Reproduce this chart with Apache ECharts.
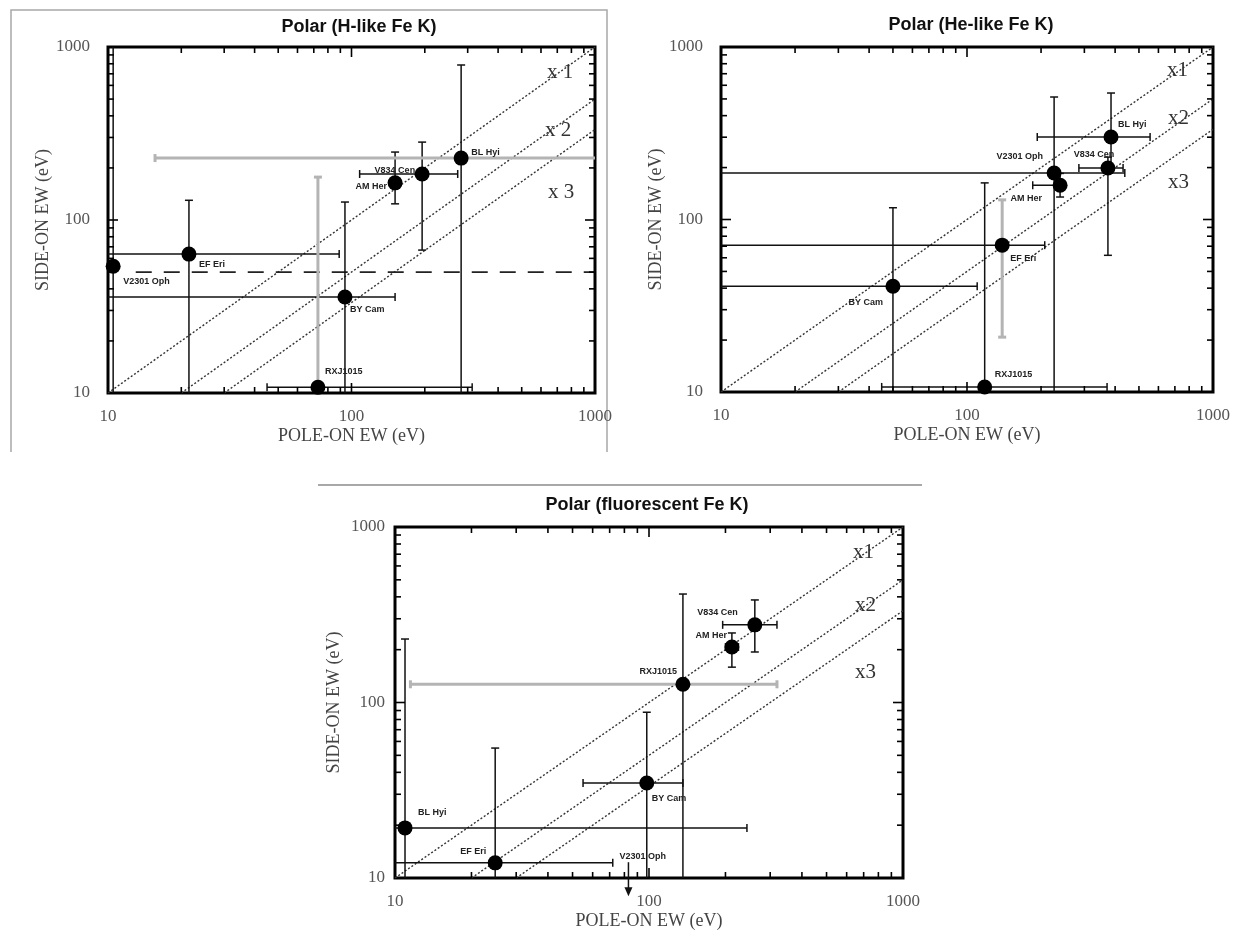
<!DOCTYPE html>
<html>
<head>
<meta charset="utf-8">
<script src="https://cdn.jsdelivr.net/npm/echarts@6/dist/echarts.min.js"></script>
<style>
  html, body { margin: 0; padding: 0; background: #fff; }
  #chart { width: 1235px; height: 940px; }
</style>
</head>
<body>
<div id="chart"></div>
<script>
// ---- axis scale (log10, eV) ----
const axisMin = 10;
const axisMax = 1000;
const minorTickValues = [20, 30, 40, 50, 60, 70, 80, 90, 200, 300, 400, 500, 600, 700, 800, 900];
const majorTickValues = [100];
const ratioValues = [1, 2, 3];           // side-on = pole-on / ratio

// ---- Polar (H-like Fe K) ----
const hNames = ['V2301 Oph', 'EF Eri', 'BY Cam', 'RXJ1015', 'AM Her', 'V834 Cen', 'BL Hyi'];
const hPole  = [10.5, 21.5, 94, 72.8, 151, 195, 282];
const hSide  = [54, 63.5, 35.9, 10.8, 164, 184.5, 228];
const hPoleLo = [null, 8, 8, 45, null, 108, 15.6];
const hPoleHi = [null, 89, 151, 313, null, 273, 1200];
const hSideLo = [8, 8, 8, 8, 124, 67, 8];
const hSideHi = [1200, 130, 127, 177, 247, 282, 787];
const hRangeLine = [13, 1200, 50];       // pole-on from, pole-on to, side-on level

// ---- Polar (He-like Fe K) ----
const heNames = ['BY Cam', 'RXJ1015', 'EF Eri', 'V2301 Oph', 'AM Her', 'V834 Cen', 'BL Hyi'];
const hePole  = [50, 118, 139, 226, 239, 374, 385];
const heSide  = [41, 10.7, 71, 186, 158, 199, 301];
const hePoleLo = [8, 45, 8, 8, 185, 285, 193];
const hePoleHi = [110, 371, 207, 438, null, 431, 555];
const heSideLo = [8, 8, 20.8, 8, 135, 62, 200];
const heSideHi = [117, 163, 130, 513, 185, 230, 541];

// ---- Polar (fluorescent Fe K) ----
const flNames = ['BL Hyi', 'EF Eri', 'BY Cam', 'RXJ1015', 'AM Her', 'V834 Cen'];
const flPole  = [10.95, 24.8, 98, 136, 212, 261];
const flSide  = [19.3, 12.2, 34.8, 127, 207, 277];
const flPoleLo = [8, 8, 55, 11.5, 200, 195];
const flPoleHi = [243, 72, 136, 319, 225, 319];
const flSideLo = [8, 8, 8, 8, 159, 194];
const flSideHi = [230, 55, 88, 415, 249, 384];
const flUpperName = ['V2301 Oph'];
const flUpperPole = [83];
const flUpperSide = [12.3];

// ---- layout & styling ----
const grids = [
  { left: 108, top: 47, width: 487, height: 346 },
  { left: 721, top: 47, width: 492, height: 345 },
  { left: 395, top: 527, width: 508, height: 351 }
];
const yLabelMargin = [18, 18, 10];
const serif = 'Liberation Serif';
const sans = 'Liberation Sans';

// which error bars are drawn in grey
const greyBars = [
  { 'BL Hyi': 'x', 'RXJ1015': 'y' },
  { 'EF Eri': 'y' },
  { 'RXJ1015': 'x' }
];

// label placement relative to the marker: [dx, dy, align]
const labelPlace = [
  {
    'V2301 Oph': [10, 15, 'left'], 'EF Eri': [10, 10, 'left'], 'BY Cam': [5, 13, 'left'],
    'RXJ1015': [7, -16, 'left'], 'AM Her': [-8, 4, 'right'], 'V834 Cen': [-7, -3, 'right'],
    'BL Hyi': [10, -6, 'left']
  },
  {
    'BY Cam': [-10, 16, 'right'], 'RXJ1015': [10, -12, 'left'], 'EF Eri': [8, 13, 'left'],
    'V2301 Oph': [-11, -16, 'right'], 'AM Her': [-18, 13, 'right'], 'V834 Cen': [-14, -13, 'center'],
    'BL Hyi': [7, -12, 'left']
  },
  {
    'BL Hyi': [13, -15, 'left'], 'EF Eri': [-9, -11, 'right'], 'BY Cam': [5, 16, 'left'],
    'RXJ1015': [-6, -13, 'right'], 'AM Her': [-5, -12, 'right'], 'V834 Cen': [-17, -12, 'right'],
    'V2301 Oph': [-9, -6, 'left']
  }
];

const titles = [
  { text: 'Polar (H-like Fe K)', x: 359, y: 27 },
  { text: 'Polar (He-like Fe K)', x: 971, y: 25 },
  { text: 'Polar (fluorescent Fe K)', x: 647, y: 505 }
];
const ratioLabels = [
  [{ t: 'x 1', x: 547, y: 72 }, { t: 'x 2', x: 545, y: 130 }, { t: 'x 3', x: 548, y: 192 }],
  [{ t: 'x1', x: 1167, y: 70 }, { t: 'x2', x: 1168, y: 118 }, { t: 'x3', x: 1168, y: 182 }],
  [{ t: 'x1', x: 853, y: 552 }, { t: 'x2', x: 855, y: 605 }, { t: 'x3', x: 855, y: 672 }]
];

// ---- helpers ----
function clampTo(r) {
  return {
    x: v => Math.max(r.x, Math.min(r.x + r.width, v)),
    y: v => Math.max(r.y, Math.min(r.y + r.height, v)),
    inX: v => v >= r.x - 0.5 && v <= r.x + r.width + 0.5,
    inY: v => v >= r.y - 0.5 && v <= r.y + r.height + 0.5
  };
}

function barStyle(grey) {
  return grey
    ? { stroke: '#b4b4b4', lineWidth: 3 }
    : { stroke: '#111', lineWidth: 1.5 };
}

function errorBarSeries(g, names, px, py, pxLo, pxHi, pyLo, pyHi) {
  const cap = 4;
  return {
    type: 'custom',
    xAxisIndex: g, yAxisIndex: g,
    silent: true,
    z: 3,
    data: names.map((n, i) => ({ name: n, value: [px[i], py[i]] })),
    encode: { x: 0, y: 1 },
    renderItem(params, api) {
      const i = params.dataIndex;
      const r = params.coordSys;
      const c = clampTo(r);
      const p = api.coord([px[i], py[i]]);
      const grey = greyBars[g][names[i]] || '';
      const children = [];
      if (pxLo[i] != null || pxHi[i] != null) {
        const a = pxLo[i] != null ? api.coord([pxLo[i], py[i]])[0] : p[0];
        const b = pxHi[i] != null ? api.coord([pxHi[i], py[i]])[0] : p[0];
        const st = barStyle(grey.includes('x'));
        children.push({ type: 'line', shape: { x1: c.x(a), y1: p[1], x2: c.x(b), y2: p[1] }, style: st });
        [[a, pxLo[i]], [b, pxHi[i]]].forEach(([e, v]) => {
          if (v != null && c.inX(e)) {
            children.push({ type: 'line', shape: { x1: e, y1: p[1] - cap, x2: e, y2: p[1] + cap }, style: st });
          }
        });
      }
      if (pyLo[i] != null || pyHi[i] != null) {
        const a = pyLo[i] != null ? api.coord([px[i], pyLo[i]])[1] : p[1];
        const b = pyHi[i] != null ? api.coord([px[i], pyHi[i]])[1] : p[1];
        const st = barStyle(grey.includes('y'));
        children.push({ type: 'line', shape: { x1: p[0], y1: c.y(a), x2: p[0], y2: c.y(b) }, style: st });
        [[a, pyLo[i]], [b, pyHi[i]]].forEach(([e, v]) => {
          if (v != null && c.inY(e)) {
            children.push({ type: 'line', shape: { x1: p[0] - cap, y1: e, x2: p[0] + cap, y2: e }, style: st });
          }
        });
      }
      return { type: 'group', children };
    }
  };
}

function markerLabel(g, n) {
  const lp = labelPlace[g][n];
  return {
    show: true, position: 'inside', formatter: '{b}',
    align: lp[2], verticalAlign: 'middle', offset: [lp[0], lp[1]],
    fontFamily: sans, fontSize: 9, fontWeight: 'bold', color: '#222'
  };
}

function pointSeries(g, names, px, py) {
  return {
    type: 'scatter',
    xAxisIndex: g, yAxisIndex: g,
    symbol: 'circle',
    symbolSize: 15,
    z: 5,
    itemStyle: { color: '#000', opacity: 1 },
    data: names.map((n, i) => ({ name: n, value: [px[i], py[i]], label: markerLabel(g, n) }))
  };
}

function ratioSeries(g) {
  return ratioValues.map(r => ({
    type: 'line',
    xAxisIndex: g, yAxisIndex: g,
    silent: true,
    symbol: 'none',
    z: 2,
    lineStyle: { color: '#333', width: 1.4, type: [2, 2] },
    data: [[axisMin * r, axisMin], [axisMax, axisMax / r]]
  }));
}

function tickSeries(g) {
  const vals = minorTickValues.concat(majorTickValues);
  return {
    type: 'custom',
    xAxisIndex: g, yAxisIndex: g,
    silent: true,
    z: 4,
    data: vals.map(v => [v, v]),
    encode: { x: 0, y: 1 },
    renderItem(params, api) {
      const v = api.value(0);
      const len = majorTickValues.indexOf(v) >= 0 ? 10 : 6;
      const r = params.coordSys;
      const x = api.coord([v, axisMin])[0];
      const y = api.coord([axisMin, v])[1];
      const st = { stroke: '#000', lineWidth: 1.6 };
      const bottom = r.y + r.height, right = r.x + r.width;
      return {
        type: 'group',
        children: [
          { type: 'line', shape: { x1: x, y1: bottom, x2: x, y2: bottom - len }, style: st },
          { type: 'line', shape: { x1: x, y1: r.y, x2: x, y2: r.y + len }, style: st },
          { type: 'line', shape: { x1: r.x, y1: y, x2: r.x + len, y2: y }, style: st },
          { type: 'line', shape: { x1: right, y1: y, x2: right - len, y2: y }, style: st }
        ]
      };
    }
  };
}

function rangeLineSeries(g, seg) {
  return {
    type: 'custom',
    xAxisIndex: g, yAxisIndex: g,
    silent: true,
    z: 3,
    data: [[seg[0], seg[2]]],
    encode: { x: 0, y: 1 },
    renderItem(params, api) {
      const c = clampTo(params.coordSys);
      const a = api.coord([seg[0], seg[2]]);
      const b = api.coord([seg[1], seg[2]]);
      return {
        type: 'line',
        shape: { x1: c.x(a[0]), y1: a[1], x2: c.x(b[0]), y2: b[1] },
        style: { stroke: '#222', lineWidth: 1.6, lineDash: [16, 12] }
      };
    }
  };
}

function upperLimitSeries(g, names, px, py) {
  const arrowLen = 34;
  return [{
    type: 'custom',
    xAxisIndex: g, yAxisIndex: g,
    silent: true,
    z: 4,
    clip: false,
    data: names.map((n, i) => ({ name: n, value: [px[i], py[i]] })),
    encode: { x: 0, y: 1 },
    renderItem(params, api) {
      const p = api.coord([api.value(0), api.value(1)]);
      const tip = p[1] + arrowLen;
      return {
        type: 'group',
        children: [
          { type: 'line', shape: { x1: p[0], y1: p[1], x2: p[0], y2: tip - 6 }, style: { stroke: '#111', lineWidth: 1.5 } },
          { type: 'polygon', shape: { points: [[p[0] - 4, tip - 9], [p[0] + 4, tip - 9], [p[0], tip]] }, style: { fill: '#111' } }
        ]
      };
    }
  }, {
    type: 'scatter',
    xAxisIndex: g, yAxisIndex: g,
    symbolSize: 0,
    z: 5,
    silent: true,
    itemStyle: { opacity: 1 },
    data: names.map((n, i) => ({ name: n, value: [px[i], py[i]], label: markerLabel(g, n) }))
  }];
}

const plainNumber = v => String(Math.round(v));

function makeXAxis(g) {
  return {
    type: 'log', logBase: 10, gridIndex: g, min: axisMin, max: axisMax,
    name: 'POLE-ON EW (eV)', nameLocation: 'middle', nameGap: 34,
    nameTextStyle: { fontFamily: serif, fontSize: 18, color: '#444' },
    axisLine: { show: false }, axisTick: { show: false }, splitLine: { show: false },
    axisLabel: { fontFamily: serif, fontSize: 17, color: '#555', margin: 15, formatter: plainNumber }
  };
}
function makeYAxis(g) {
  return {
    type: 'log', logBase: 10, gridIndex: g, min: axisMin, max: axisMax,
    name: 'SIDE-ON EW (eV)', nameLocation: 'middle', nameGap: 52, nameRotate: 90,
    nameTextStyle: { fontFamily: serif, fontSize: 18, color: '#444' },
    axisLine: { show: false }, axisTick: { show: false }, splitLine: { show: false },
    axisLabel: { fontFamily: serif, fontSize: 17, color: '#555', margin: yLabelMargin[g], formatter: plainNumber }
  };
}

const graphic = [
  // frame around the H-like panel
  { type: 'polyline', shape: { points: [[11, 452], [11, 10], [607, 10], [607, 452]] }, style: { stroke: '#a8a8a8', lineWidth: 1.5, fill: null }, silent: true },
  // rule above the fluorescent panel
  { type: 'line', shape: { x1: 318, y1: 485, x2: 922, y2: 485 }, style: { stroke: '#a8a8a8', lineWidth: 2 }, silent: true }
];
titles.forEach(t => graphic.push({
  type: 'text', silent: true,
  style: { text: t.text, x: t.x, y: t.y, align: 'center', verticalAlign: 'middle', font: 'bold 18px "Liberation Sans"', fill: '#111' }
}));
ratioLabels.forEach(set => set.forEach(t => graphic.push({
  type: 'text', silent: true,
  style: { text: t.t, x: t.x, y: t.y, align: 'left', verticalAlign: 'middle', font: '21px "Liberation Serif"', fill: '#333' }
})));

const series = [].concat(
  ratioSeries(0), ratioSeries(1), ratioSeries(2),
  [tickSeries(0), tickSeries(1), tickSeries(2)],
  [rangeLineSeries(0, hRangeLine)],
  [errorBarSeries(0, hNames, hPole, hSide, hPoleLo, hPoleHi, hSideLo, hSideHi)],
  [errorBarSeries(1, heNames, hePole, heSide, hePoleLo, hePoleHi, heSideLo, heSideHi)],
  [errorBarSeries(2, flNames, flPole, flSide, flPoleLo, flPoleHi, flSideLo, flSideHi)],
  [pointSeries(0, hNames, hPole, hSide), pointSeries(1, heNames, hePole, heSide), pointSeries(2, flNames, flPole, flSide)],
  upperLimitSeries(2, flUpperName, flUpperPole, flUpperSide)
);

const chart = echarts.init(document.getElementById('chart'), null, { renderer: 'canvas' });
chart.setOption({
  animation: false,
  backgroundColor: '#fff',
  grid: grids.map(g => Object.assign({ show: true, borderColor: '#000', borderWidth: 3, backgroundColor: 'transparent', containLabel: false }, g)),
  xAxis: grids.map((_, g) => makeXAxis(g)),
  yAxis: grids.map((_, g) => makeYAxis(g)),
  graphic,
  series
});
</script>
</body>
</html>
